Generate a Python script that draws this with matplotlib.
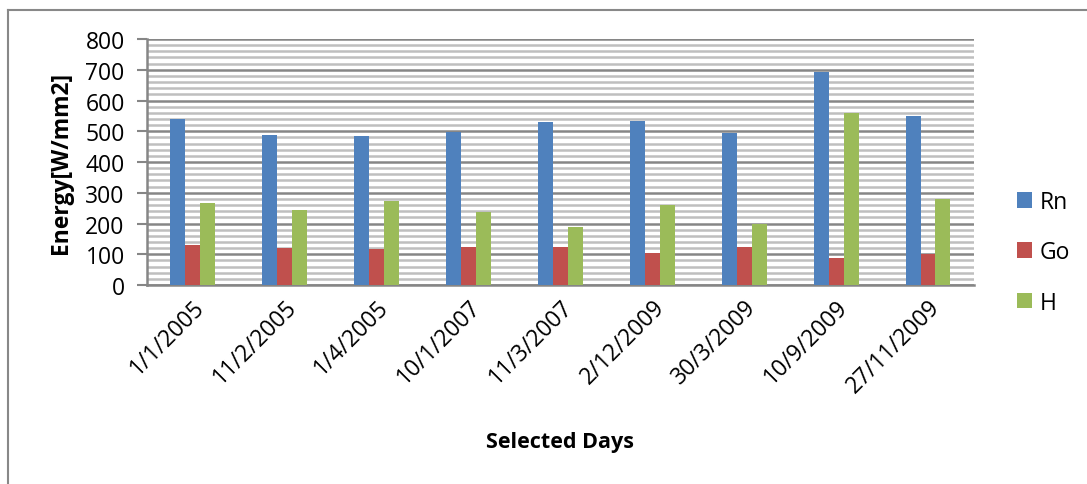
import numpy as np
import matplotlib.pyplot as plt
from matplotlib.lines import Line2D

# 선택된 날짜별 에너지 값
days = ['1/1/2005', '11/2/2005', '1/4/2005', '10/1/2007', '11/3/2007',
        '2/12/2009', '30/3/2009', '10/9/2009', '27/11/2009']
rn = [541, 487, 486, 498, 529, 532, 493, 693, 548]
go = [129, 121, 118, 122, 123, 105, 124, 88, 102]
h = [266, 243, 274, 237, 188, 260, 198, 561, 280]

plt.rcParams['font.family'] = ['Open Sans', 'DejaVu Sans']

fig = plt.figure(figsize=(10.87, 4.85), dpi=100)
ax = fig.add_axes([0.1352, 0.4103, 0.7608, 0.5072])

x = np.arange(len(days))
w = 0.163
ax.bar(x - w, rn, w, color='#4F81BD', label='Rn', zorder=3)
ax.bar(x, go, w, color='#C0504D', label='Go', zorder=3)
ax.bar(x + w, h, w, color='#9BBB59', label='H', zorder=3)

ax.set_xlim(-0.5, len(days) - 0.5)
ax.set_ylim(0, 800)
ax.set_yticks(np.arange(0, 801, 100))
ax.set_yticks(np.arange(0, 801, 20), minor=True)

# 격자선 (주: 100 단위, 보조: 20 단위)
ax.grid(axis='y', which='minor', color='#BFBFBF', linewidth=1.8, zorder=0)
ax.grid(axis='y', which='major', color='#868686', linewidth=1.8, zorder=1)
ax.tick_params(axis='y', which='minor', length=0)
ax.tick_params(axis='y', which='major', length=7, width=1.5, color='#868686',
               pad=9, labelsize=16.5)
ax.tick_params(axis='x', length=0, pad=7, labelsize=16.5)

ax.set_xticks(x)
ax.set_xticklabels(days, rotation=45, ha='right', rotation_mode='anchor')

for s in ['top', 'right']:
    ax.spines[s].set_visible(False)
for s in ['left', 'bottom']:
    ax.spines[s].set_color('#868686')
    ax.spines[s].set_linewidth(1.8)

ax.set_ylabel('Energy[W/mm2]', fontsize=16.5, fontweight='bold', labelpad=9)
fig.text(0.515, 0.087, 'Selected Days', fontsize=15.5, fontweight='bold',
         ha='center', va='center')

ax.legend(loc='center left', bbox_to_anchor=(0.927, 0.478),
          bbox_transform=fig.transFigure, frameon=False, fontsize=16.5,
          handlelength=0.68, handleheight=0.68, handletextpad=0.3,
          labelspacing=1.15, borderaxespad=0)

# 바깥 테두리 (왼쪽, 위쪽)
fig.add_artist(Line2D([8 / 1087, 8 / 1087], [0, 1 - 11 / 485],
                      transform=fig.transFigure, color='#888888', lw=1.5))
fig.add_artist(Line2D([8 / 1087, 1], [1 - 11 / 485, 1 - 11 / 485],
                      transform=fig.transFigure, color='#888888', lw=1.5))

fig.savefig('out.png', dpi=100)
